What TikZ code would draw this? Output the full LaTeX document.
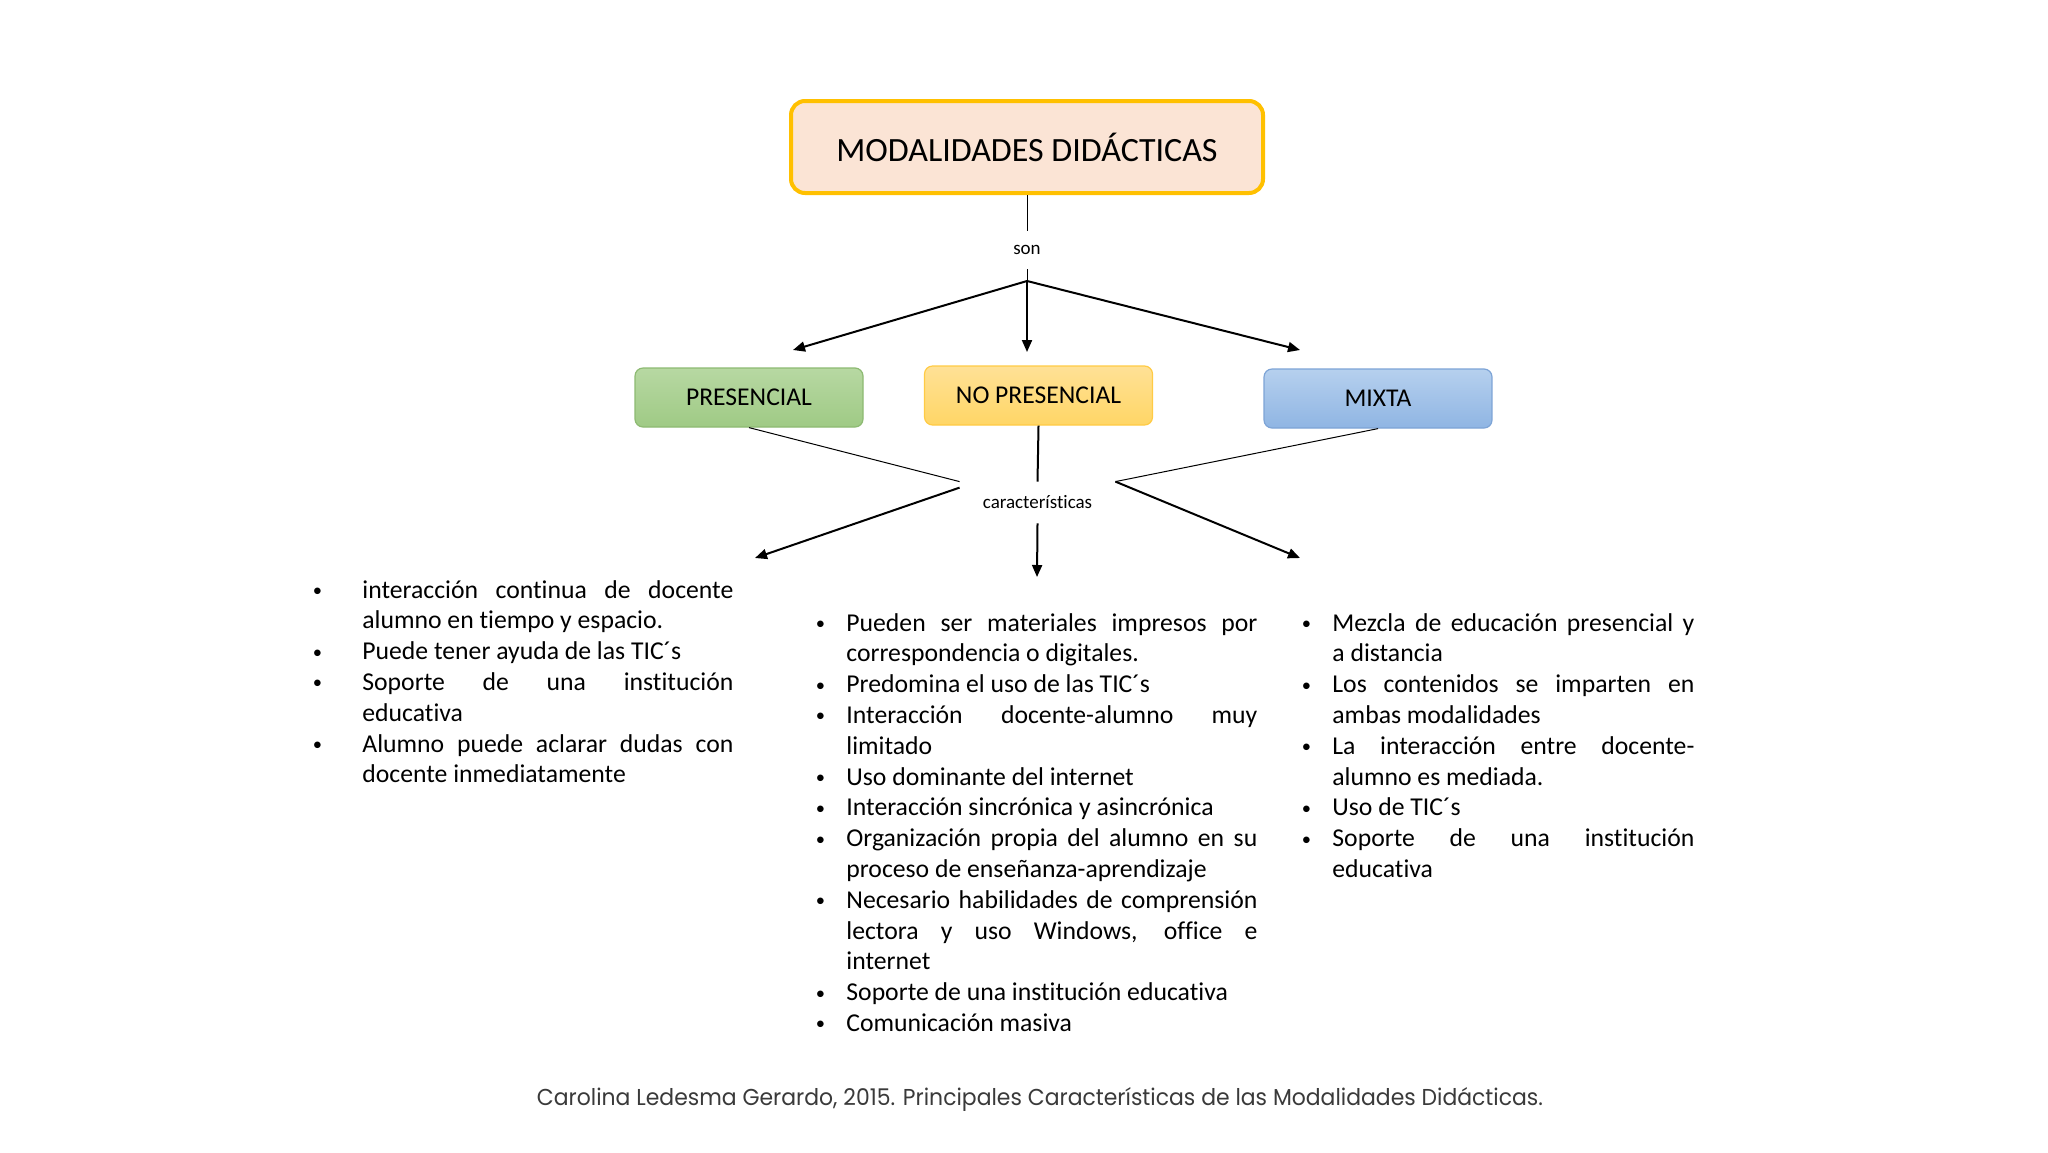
\documentclass[tikz,border=0pt]{standalone}
\usepackage{fontspec}
\usepackage{graphicx}
\setmainfont{Carlito}[Ligatures={NoCommon}]
\newfontfamily\capfont{Poppins}
\usetikzlibrary{arrows.meta}
\definecolor{titlefill}{HTML}{FBE4D5}
\definecolor{titledraw}{HTML}{FFC000}
\definecolor{greenT}{HTML}{B7D8A2}
\definecolor{greenB}{HTML}{9FCA85}
\definecolor{greenD}{HTML}{8DBA72}
\definecolor{yelT}{HTML}{FFE196}
\definecolor{yelB}{HTML}{FFD666}
\definecolor{yelD}{HTML}{FFCB45}
\definecolor{bluT}{HTML}{B6D0EE}
\definecolor{bluB}{HTML}{8FB5E3}
\definecolor{bluD}{HTML}{7DA4D6}
\definecolor{capgray}{HTML}{3A3A3A}
\newcommand\smallbul{\hbox to 0pt{\hss\raisebox{0.12ex}{\scalebox{0.72}{\textbullet}}\hss}}
\newenvironment{bltlist}[1]{\begin{list}{\smallbul}{%
  \setlength\leftmargin{#1}\setlength\labelsep{0pt}\setlength\labelwidth{#1}%
  \setlength\itemsep{0pt}\setlength\parsep{0pt}\setlength\topsep{0pt}%
  \setlength\partopsep{0pt}\def\makelabel##1{##1\hfil}}%
  \hyphenpenalty=10000 \exhyphenpenalty=0 \tolerance=10000 \pretolerance=10000}{\end{list}}
\newcommand\colfont{\fontsize{12.85pt}{15.4pt}\selectfont}
\begin{document}
\begin{tikzpicture}[x=0.5pt,y=-0.5pt,
  titlebox/.style={draw=titledraw, line width=2pt, fill=titlefill, rounded corners=7pt,
    minimum width=236pt, minimum height=46pt, inner sep=0pt,
    font=\fontsize{17pt}{20pt}\selectfont},
  catbox/.style={rounded corners=4pt, minimum width=114pt, minimum height=29.5pt,
    inner sep=0pt, line width=0.6pt, font=\fontsize{12.8pt}{15pt}\selectfont},
  thinline/.style={line width=0.5pt},
  midline/.style={line width=1pt},
  arr/.style={line width=1pt, -{Triangle[length=6pt,width=5pt]}},
  lbl/.style={font=\fontsize{9.5pt}{11pt}\selectfont, inner sep=0pt},
  colnode/.style={anchor=base west, inner sep=0pt, font=\colfont}
]
\fill[white] (0,0) rectangle (2048,1152);
\useasboundingbox (0,0) rectangle (2048,1152);

% title
\node[titlebox] (title) at (1027,147) {MODALIDADES DIDÁCTICAS};
\node[lbl, minimum height=19pt] (son) at (1027,250) {son};
\coordinate (j) at (1027,281);
\coordinate (t1) at (793,350);
\coordinate (t2) at (1027,352);
\coordinate (t3) at (1300,350);

\draw[thinline] (title.south) -- (son.north);
\draw[thinline] (son.south) -- (j);
\draw[arr] (j) -- (t1);
\draw[arr] (j) -- (t2);
\draw[arr] (j) -- (t3);

% categories
\node[catbox, top color=greenT, bottom color=greenB, draw=greenD] (pres) at (749,397.5) {PRESENCIAL};
\node[catbox, top color=yelT, bottom color=yelB, draw=yelD] (nopres) at (1038.5,395.5) {NO PRESENCIAL};
\node[catbox, top color=bluT, bottom color=bluB, draw=bluD] (mixta) at (1378,398.5) {MIXTA};

\node[lbl, minimum width=77.5pt, minimum height=20.5pt] (car) at (1037.5,502.5) {características};
\coordinate (a1) at (755,558);
\coordinate (a2) at (1037,577);
\coordinate (a3) at (1300,558);

\draw[thinline] (pres.south) -- (car.north west);
\draw[midline] (nopres.south) -- (car.north);
\draw[thinline] (mixta.south) -- (car.north east);
\draw[arr] ([yshift=-3pt]car.north west) -- (a1);
\draw[arr] (car.south) -- (a2);
\draw[arr] (car.north east) -- (a3);

% columns
\node[colnode] (colL) at (317,598) {\begin{minipage}[t]{208pt}\colfont\begin{bltlist}{22.5pt}
\item interacción continua de docente alumno en tiempo y espacio.
\item Puede tener ayuda de las TIC´s
\item Soporte de una institución\linebreak educativa
\item Alumno puede aclarar dudas con docente inmediatamente
\end{bltlist}\end{minipage}};

\node[colnode] (colM) at (820,631) {\begin{minipage}[t]{218.5pt}\colfont\begin{bltlist}{13pt}
\item Pueden ser materiales impresos por correspondencia o digitales.
\item Predomina el uso de las TIC´s
\item Interacción docente-alumno muy limitado
\item Uso dominante del internet
\item Interacción sincrónica y asincrónica
\item Organización propia del alumno en su proceso de enseñanza-aprendizaje
\item Necesario habilidades de comprensión\linebreak lectora y uso Windows, office e\linebreak internet
\item Soporte de una institución educativa
\item Comunicación masiva
\end{bltlist}\end{minipage}};

\node[colnode] (colR) at (1306,631) {\begin{minipage}[t]{194pt}\colfont\begin{bltlist}{13pt}
\item Mezcla de educación presencial y\linebreak a distancia
\item Los contenidos se imparten en ambas modalidades
\item La interacción entre docente-\linebreak alumno es mediada.
\item Uso de TIC´s
\item Soporte de una institución educativa
\end{bltlist}\end{minipage}};

% caption
\node[inner sep=0pt, text=capgray, font=\capfont\fontsize{11.5pt}{14pt}\selectfont] (cap) at (1040,1099)
  {\resizebox{503pt}{\height}{Carolina Ledesma Gerardo, 2015. Principales Características de las Modalidades Didácticas.}};
\end{tikzpicture}
\end{document}
